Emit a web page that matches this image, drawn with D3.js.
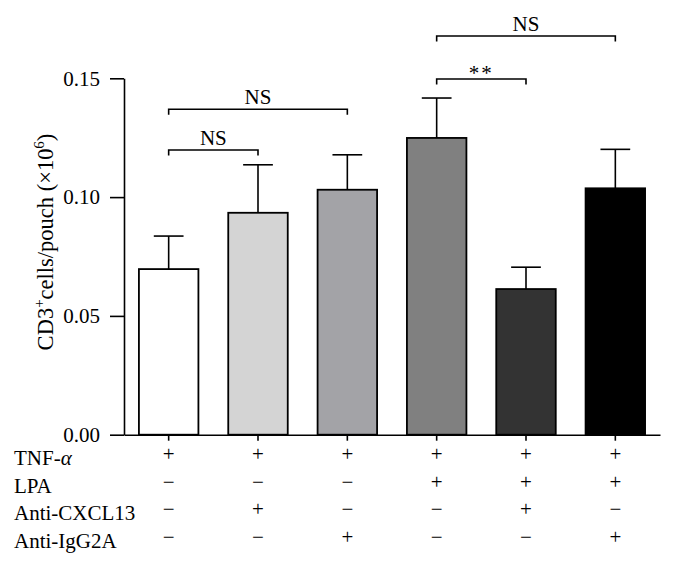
<!DOCTYPE html>
<html>
<head>
<meta charset="utf-8">
<script src="https://cdn.jsdelivr.net/npm/d3@7"></script>
<style>
  html, body { margin: 0; padding: 0; background: #fff; }
  svg text { font-family: 'Liberation Serif', 'Times New Roman', serif; fill: #000; }
</style>
</head>
<body>
<svg id="chart" width="674" height="566"></svg>
<script>
// ---- data ----
const categories = ["TNF-α", "TNF-α + Anti-CXCL13", "TNF-α + Anti-IgG2A", "TNF-α + LPA", "TNF-α + LPA + Anti-CXCL13", "TNF-α + LPA + Anti-IgG2A"];
const values = [0.0697, 0.0934, 0.1031, 0.1249, 0.0613, 0.1037];
const errors = [0.0139, 0.0202, 0.0147, 0.0168, 0.0092, 0.0164];
const yTicks = [0.00, 0.05, 0.10, 0.15];
const treatmentRows = ["TNF-α", "LPA", "Anti-CXCL13", "Anti-IgG2A"];
const treatmentSigns = [
  ["+", "+", "+", "+", "+", "+"],
  ["−", "−", "−", "+", "+", "+"],
  ["−", "+", "−", "−", "+", "−"],
  ["−", "−", "+", "−", "−", "+"]
];
const compFrom = [0, 0, 3, 3];
const compTo = [1, 2, 4, 5];
const compLabels = ["NS", "NS", "**", "NS"];
const compLevels = [0.1198, 0.1370, 0.1497, 0.1678];
const barColors = ["#ffffff", "#d4d4d4", "#a3a3a7", "#808080", "#333333", "#000000"];

// ---- layout ----
const svg = d3.select("#chart");
const x = d3.scaleBand().domain(categories).range([124, 660]).paddingInner(0.334).paddingOuter(0.167);
const y = d3.scaleLinear().domain([0, 0.15]).range([434.7, 78.3]);
const FS = 21;

// bars
svg.append("g").selectAll("rect").data(values).join("rect")
  .attr("x", (d, i) => x(categories[i]))
  .attr("y", d => y(d))
  .attr("width", x.bandwidth())
  .attr("height", d => y(0) - y(d))
  .attr("fill", (d, i) => barColors[i])
  .attr("stroke", "#000").attr("stroke-width", 1.8);

// error bars (upper only)
const eb = svg.append("g").attr("stroke", "#000").attr("stroke-width", 1.6).attr("fill", "none");
values.forEach((v, i) => {
  const cx = x(categories[i]) + x.bandwidth() / 2;
  const capW = x.bandwidth() / 2;
  eb.append("line").attr("x1", cx).attr("x2", cx).attr("y1", y(v)).attr("y2", y(v + errors[i]));
  eb.append("line").attr("x1", cx - capW / 2).attr("x2", cx + capW / 2).attr("y1", y(v + errors[i])).attr("y2", y(v + errors[i]));
});

// y axis
const yAxis = svg.append("g").attr("transform", "translate(124,0)")
  .call(d3.axisLeft(y).tickValues(yTicks).tickFormat(d3.format(".2f")).tickSize(14).tickSizeOuter(0).tickPadding(10));
yAxis.selectAll("text").style("font-size", FS + "px").attr("font-family", null);
yAxis.selectAll("line, path").attr("stroke", "#000").attr("stroke-width", 1.6);

// x axis
const xAxis = svg.append("g").attr("transform", `translate(0,${y(0)})`)
  .call(d3.axisBottom(x).tickSize(6).tickSizeOuter(0).tickFormat(""));
xAxis.selectAll("line, path").attr("stroke", "#000").attr("stroke-width", 1.6);

// y axis title
const title = svg.append("text")
  .attr("transform", `translate(53,242) rotate(-90)`)
  .attr("text-anchor", "middle")
  .style("font-size", "22.5px");
title.append("tspan").text("CD3");
title.append("tspan").attr("dy", -9).style("font-size", "15px").text("+");
title.append("tspan").attr("dy", 9).text("cells/pouch (×10");
title.append("tspan").attr("dy", -9).style("font-size", "15px").text("6");
title.append("tspan").attr("dy", 9).text(")");

// significance brackets
const br = svg.append("g");
compLabels.forEach((lab, k) => {
  const x1 = x(categories[compFrom[k]]) + x.bandwidth() / 2;
  const x2 = x(categories[compTo[k]]) + x.bandwidth() / 2;
  const yy = y(compLevels[k]);
  br.append("path")
    .attr("d", `M${x1},${yy + 5.5}V${yy}H${x2}V${yy + 5.5}`)
    .attr("fill", "none").attr("stroke", "#000").attr("stroke-width", 1.6);
  br.append("text")
    .attr("x", (x1 + x2) / 2)
    .attr("y", lab === "**" ? yy + 1 : yy - 5)
    .attr("text-anchor", "middle")
    .style("font-size", FS + "px")
    .style("letter-spacing", lab === "**" ? "2px" : null)
    .text(lab);
});

// treatment table
const rowY = d3.scaleLinear().domain([0, 3]).range([465, 548.1]);
const tbl = svg.append("g");
treatmentRows.forEach((name, r) => {
  const t = tbl.append("text").attr("x", 14).attr("y", rowY(r)).style("font-size", FS + "px");
  if (name.includes("α")) {
    t.append("tspan").text(name.replace("α", ""));
    t.append("tspan").style("font-style", "italic").text("α");
  } else {
    t.text(name);
  }
  treatmentSigns[r].forEach((s, i) => {
    tbl.append("text")
      .attr("x", x(categories[i]) + x.bandwidth() / 2)
      .attr("y", rowY(r) - 4)
      .attr("text-anchor", "middle")
      .style("font-size", FS + "px")
      .text(s);
  });
});
</script>
</body>
</html>
